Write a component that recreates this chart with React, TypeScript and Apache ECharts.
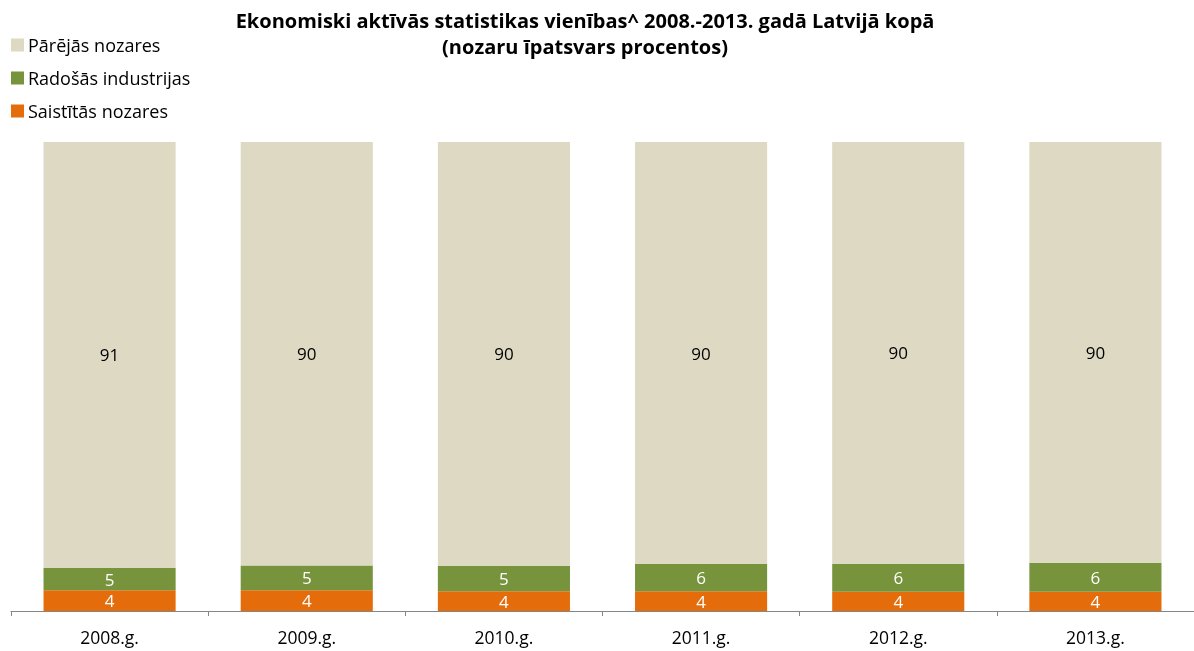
import React, { useEffect, useRef } from "react";
import * as echarts from "echarts";

const categories = ["2008.g.", "2009.g.", "2010.g.", "2011.g.", "2012.g.", "2013.g."];
const saistitas = [4.4, 4.4, 4.2, 4.2, 4.1, 4.1];
const radosas = [4.8, 5.3, 5.4, 5.8, 6.0, 6.2];
const parejas = [90.8, 90.3, 90.4, 90.0, 89.9, 89.7];

const FONT = "Open Sans";

export default function App() {
  const ref = useRef<HTMLDivElement>(null);
  useEffect(() => {
    if (!ref.current) return;
    const chart = echarts.init(ref.current, null, { renderer: "svg" });
    const fmt = (p: any) => String(Math.round(p.value));
    const barCommon = {
      type: "bar",
      stack: "total",
      barCategoryGap: "33%",
    };
    chart.setOption({
      animation: false,
      textStyle: { fontFamily: FONT },
      title: {
        text: "Ekonomiski aktīvās statistikas vienības^ 2008.-2013. gadā Latvijā kopā\n(nozaru īpatsvars procentos)",
        left: 580,
        textAlign: "center",
        top: 2,
        textStyle: {
          fontFamily: FONT,
          fontWeight: "bold",
          fontSize: 20,
          lineHeight: 26,
          color: "#000",
        },
      },
      legend: {
        orient: "vertical",
        left: 11,
        top: 36,
        padding: 0,
        itemWidth: 13,
        itemHeight: 13,
        itemGap: 15,
        icon: "rect",
        data: ["Pārējās nozares", "Radošās industrijas", "Saistītās nozares"],
        textStyle: { fontFamily: FONT, fontSize: 18, lineHeight: 18, color: "#000", padding: [0, 0, 0, -1] },
      },
      grid: { left: 11, right: -3, top: 142, bottom: 40 },
      xAxis: {
        type: "category",
        data: categories,
        axisLine: { lineStyle: { color: "#868686", width: 1 } },
        axisTick: { show: true, length: 5, lineStyle: { color: "#868686" } },
        axisLabel: { fontFamily: FONT, fontSize: 17.5, color: "#000", margin: 17 },
      },
      yAxis: {
        type: "value",
        min: 0,
        max: 100,
        show: false,
        splitLine: { show: false },
      },
      series: [
        {
          ...barCommon,
          name: "Saistītās nozares",
          data: saistitas,
          itemStyle: { color: "#E46C0A" },
          label: { show: true, position: "inside", formatter: fmt, color: "#fff", fontSize: 17, fontFamily: FONT },
        },
        {
          ...barCommon,
          name: "Radošās industrijas",
          data: radosas,
          itemStyle: { color: "#77933C" },
          label: { show: true, position: "inside", formatter: fmt, color: "#fff", fontSize: 17, fontFamily: FONT },
        },
        {
          ...barCommon,
          name: "Pārējās nozares",
          data: parejas,
          itemStyle: { color: "#DDD9C3" },
          label: { show: true, position: "inside", formatter: fmt, color: "#000", fontSize: 17, fontFamily: FONT },
        },
      ],
    });
    return () => chart.dispose();
  }, []);
  return (
    <div
      ref={ref}
      style={{ position: "fixed", left: 0, top: 0, width: 1194, height: 651 }}
    />
  );
}
